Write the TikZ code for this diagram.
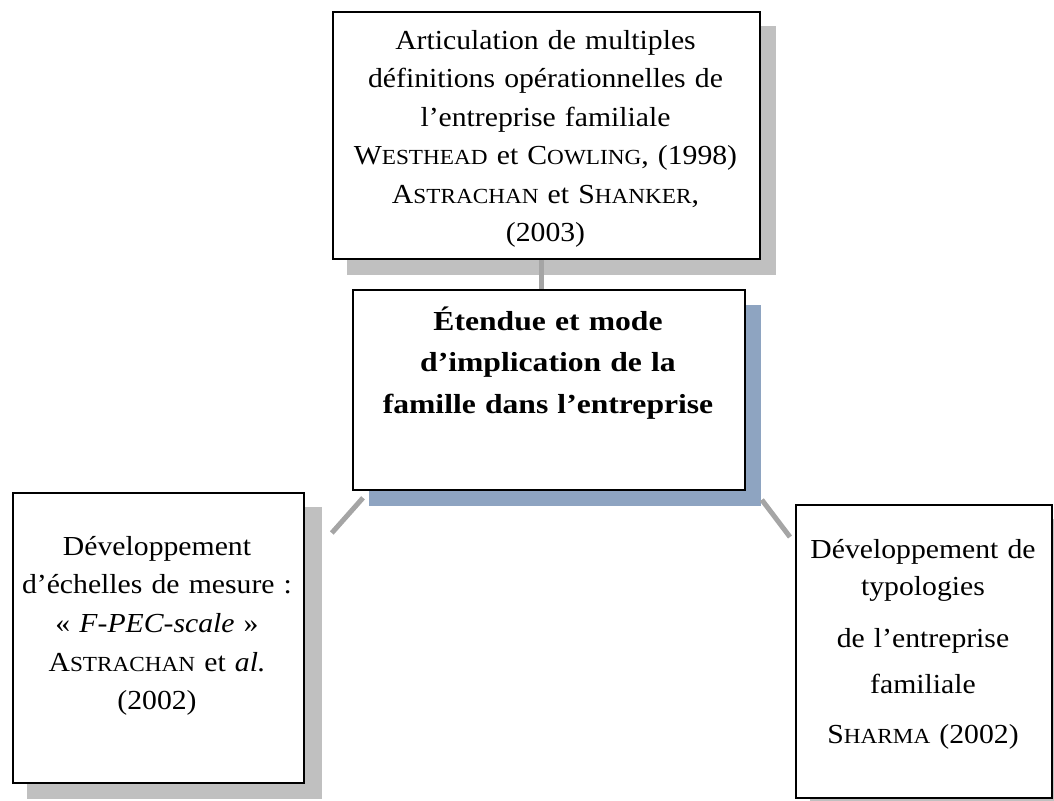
\documentclass[tikz,border=0pt]{standalone}
\usepackage{fontspec}
\setmainfont[FakeStretch=1.08]{Liberation Serif}
\newfontfamily\headfont[FakeStretch=1.15]{Liberation Serif}
\usetikzlibrary{calc,backgrounds}

% small capitals built from a full-size initial and reduced capitals
\newcommand\smcap[2]{#1{\fontsize{21.5}{21.5}\selectfont #2}}

\definecolor{shadowgrey}{RGB}{192,192,192}
\definecolor{shadowblue}{RGB}{142,164,193}
\definecolor{linkgrey}{RGB}{165,165,165}

\begin{document}
\begin{tikzpicture}[x=1pt,y=-1pt,
  box/.style={draw=black, line width=1.8pt, fill=white, inner sep=0pt, anchor=north west},
  txt/.style={anchor=base, align=center, inner sep=0pt, font=\fontsize{27.5}{38.5}\selectfont},
  boldtxt/.style={txt, font=\fontsize{27.5}{41.5}\selectfont\headfont\bfseries},
  link/.style={draw=linkgrey, line width=5pt}]
\clip (0,0) rectangle (1054,800);

% boxes
\node[box, minimum width=427pt, minimum height=247pt] (top) at (332,11) {};
\node[box, minimum width=392pt, minimum height=200pt] (centre) at (352,289) {};
\node[box, minimum width=291pt, minimum height=290pt] (left) at (12,492) {};
\node[box, minimum width=256pt, minimum height=293pt] (right) at (795,504) {};

% drop shadows behind the boxes
\begin{pgfonlayer}{background}
  \fill[shadowgrey] ($(top.north west)+(15,15)$) rectangle ($(top.south east)+(15,15)$);
  \fill[shadowblue] ($(centre.north west)+(17,16)$) rectangle ($(centre.south east)+(15,15)$);
  \fill[shadowgrey] ($(left.north west)+(15,15)$) rectangle ($(left.south east)+(17,15)$);
  \fill[shadowgrey] ($(right.north west)+(15,15)$) rectangle ($(right.south east)+(15,15)$);
\end{pgfonlayer}

% connectors
\draw[link] ($(top.south)+(-4.5,0)$) -- ($(centre.north)+(-7,0)$);
\draw[link] ($(centre.south west)+(11,7)$) -- ($(left.north east)+(27,41)$);
\draw[link] ($(centre.south east)+(16,9)$) -- ($(right.north west)+(-5,33)$);

% texts
\node[txt, text width=420pt] (toptext) at (545.5,49) {Articulation de multiples\\
  définitions opérationnelles de\\
  l’entreprise familiale\\
  \smcap{W}{ESTHEAD} et \smcap{C}{OWLING}, (1998)\\
  \smcap{A}{STRACHAN} et \smcap{S}{HANKER},\\
  (2003)};
\node[boldtxt, text width=385pt] (centretext) at (548,330) {Étendue et mode\\
  d’implication de la\\
  famille dans l’entreprise};
\node[txt, text width=285pt, font=\fontsize{27.5}{38.7}\selectfont] (lefttext) at (157,555) {Développement\\
  d’échelles de mesure :\\
  «~\textit{F-PEC-scale}~»\\
  \smcap{A}{STRACHAN} et \textit{al.}\\
  (2002)};
\node[txt, text width=250pt, font=\fontsize{27.5}{37}\selectfont] (righttext) at (923,558) {Développement de\\
  typologies\\[15pt]
  de l’entreprise\\[9pt]
  familiale\\[13pt]
  \smcap{S}{HARMA} (2002)};
\end{tikzpicture}
\end{document}
